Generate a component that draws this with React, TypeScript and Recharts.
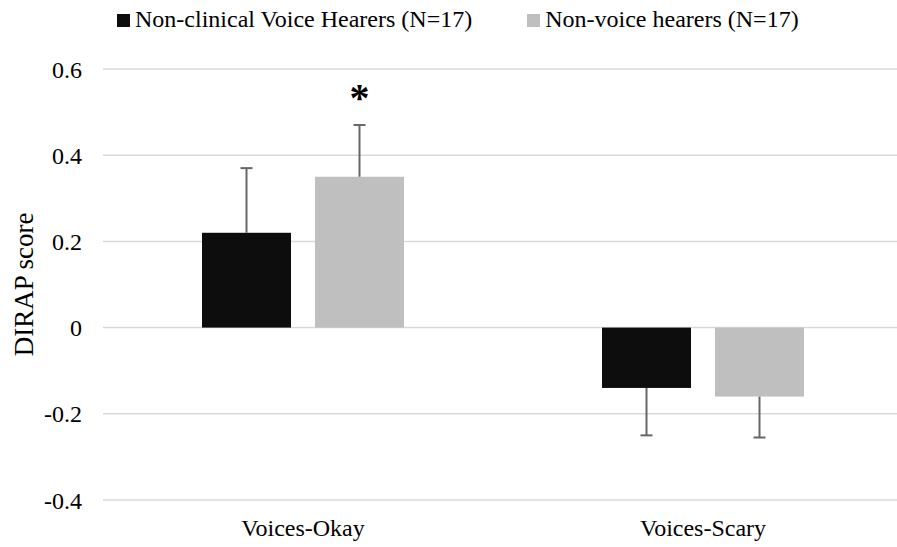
import React from "react";
import {
  ComposedChart,
  Bar,
  XAxis,
  YAxis,
  CartesianGrid,
  Legend,
  Label,
  LabelList,
} from "recharts";

const categories = ["Voices-Okay", "Voices-Scary"];
const nonClinical = [0.22, -0.14];
const nonVoice = [0.35, -0.16];
const nonClinicalErr = [0.15, 0.11];
const nonVoiceErr = [0.12, 0.095];
const nonVoiceSig = ["*", ""];
const yTicks = [-0.4, -0.2, 0, 0.2, 0.4, 0.6];

const rows = categories.map((name, i) => ({
  name,
  nonClinical: nonClinical[i],
  nonVoice: nonVoice[i],
  nonClinicalErr: nonClinicalErr[i],
  nonVoiceErr: nonVoiceErr[i],
  nonVoiceSig: nonVoiceSig[i],
}));

const FONT = '"Liberation Serif", "Times New Roman", serif';
const BLACK = "#0d0d0d";
const GREY = "#bfbfbf";
const WHISKER = "#666666";

// bar + one-sided error whisker (away from zero), scale taken from the bar itself
function barWithError(key: "nonClinical" | "nonVoice") {
  return (props: any) => {
    const { x, y, width, height, fill, payload } = props;
    const v = payload[key];
    const err = payload[key + "Err"];
    const top = Math.min(y, y + height);
    const bot = Math.max(y, y + height);
    const ppu = Math.abs(height) / Math.abs(v || 1);
    const cx = x + width / 2;
    const from = v >= 0 ? top : bot;
    const to = v >= 0 ? top - err * ppu : bot + err * ppu;
    return (
      <g>
        <rect x={x} y={top} width={width} height={bot - top} fill={fill} />
        <line x1={cx} x2={cx} y1={from} y2={to} stroke={WHISKER} strokeWidth={2} />
        <line x1={cx - 6} x2={cx + 6} y1={to} y2={to} stroke={WHISKER} strokeWidth={2} />
      </g>
    );
  };
}

function SigMark(props: any) {
  const { x, y, width, height, value, index } = props;
  if (!value) return null;
  const v = rows[index].nonVoice;
  const ppu = Math.abs(height) / Math.abs(v);
  const top = Math.min(y, y + height);
  const capY = top - rows[index].nonVoiceErr * ppu;
  return (
    <text
      x={x + width / 2}
      y={capY - 14}
      textAnchor="middle"
      fontFamily={FONT}
      fontWeight="bold"
      fontSize={40}
      fill="#000"
    >
      {value}
    </text>
  );
}

const fmt = (v: number) => (v === 0 ? "0" : v.toFixed(1));

function XTick({ x, y, payload }: any) {
  return (
    <text x={x} y={y} dy="0.71em" textAnchor="middle" fontFamily={FONT} fontSize={24} fill="#000">
      {payload.value}
    </text>
  );
}

function YTick({ x, y, payload }: any) {
  return (
    <text x={x} y={y} dy="0.355em" textAnchor="end" fontFamily={FONT} fontSize={24} fill="#000">
      {fmt(payload.value)}
    </text>
  );
}

function LegendBox() {
  const items = [
    { label: "Non-clinical Voice Hearers (N=17)", color: BLACK },
    { label: "Non-voice hearers (N=17)", color: GREY },
  ];
  return (
    <div
      style={{
        display: "flex",
        paddingLeft: 117,
        paddingTop: 7,
        fontFamily: FONT,
        fontSize: 24,
        lineHeight: "24px",
        color: "#000",
        gap: 55,
      }}
    >
      {items.map((it) => (
        <div key={it.label} style={{ display: "flex", alignItems: "center" }}>
          <span
            style={{
              width: 13,
              height: 13,
              background: it.color,
              marginRight: 5,
              marginTop: 2,
              display: "inline-block",
            }}
          />
          <span>{it.label}</span>
        </div>
      ))}
    </div>
  );
}

export default function App() {
  return (
    <div
      style={{
        position: "absolute",
        left: 0,
        top: 0,
        width: 897,
        height: 547,
        overflow: "hidden",
        background: "#fff",
        fontFamily: FONT,
      }}
    >
      <ComposedChart
        width={905}
        height={547}
        data={rows}
        margin={{ top: 69, right: 2, left: 0, bottom: 0 }}
        barSize={89}
        barGap={24}
      >
        <CartesianGrid vertical={false} stroke="#d9d9d9" strokeWidth={1.5} />
        <XAxis
          dataKey="name"
          height={47}
          axisLine={false}
          tickLine={false}
          tickMargin={13}
          tick={<XTick />}
        />
        <YAxis
          domain={[-0.4, 0.6]}
          ticks={yTicks}
          axisLine={false}
          tickLine={false}
          tickMargin={15}
          width={103}
          tick={<YTick />}
        >
          <Label
            value="DIRAP score"
            angle={-90}
            position="insideLeft"
            offset={23}
            style={{ textAnchor: "middle", fontSize: 27, fontFamily: FONT, fill: "#000" }}
          />
        </YAxis>
        <Legend
          verticalAlign="middle"
          wrapperStyle={{ top: 0, left: 0 }}
          content={() => <LegendBox />}
        />
        <Bar
          dataKey="nonClinical"
          name="Non-clinical Voice Hearers (N=17)"
          fill={BLACK}
          shape={barWithError("nonClinical")}
          isAnimationActive={false}
        />
        <Bar
          dataKey="nonVoice"
          name="Non-voice hearers (N=17)"
          fill={GREY}
          shape={barWithError("nonVoice")}
          isAnimationActive={false}
        >
          <LabelList dataKey="nonVoiceSig" content={SigMark} />
        </Bar>
      </ComposedChart>
    </div>
  );
}
